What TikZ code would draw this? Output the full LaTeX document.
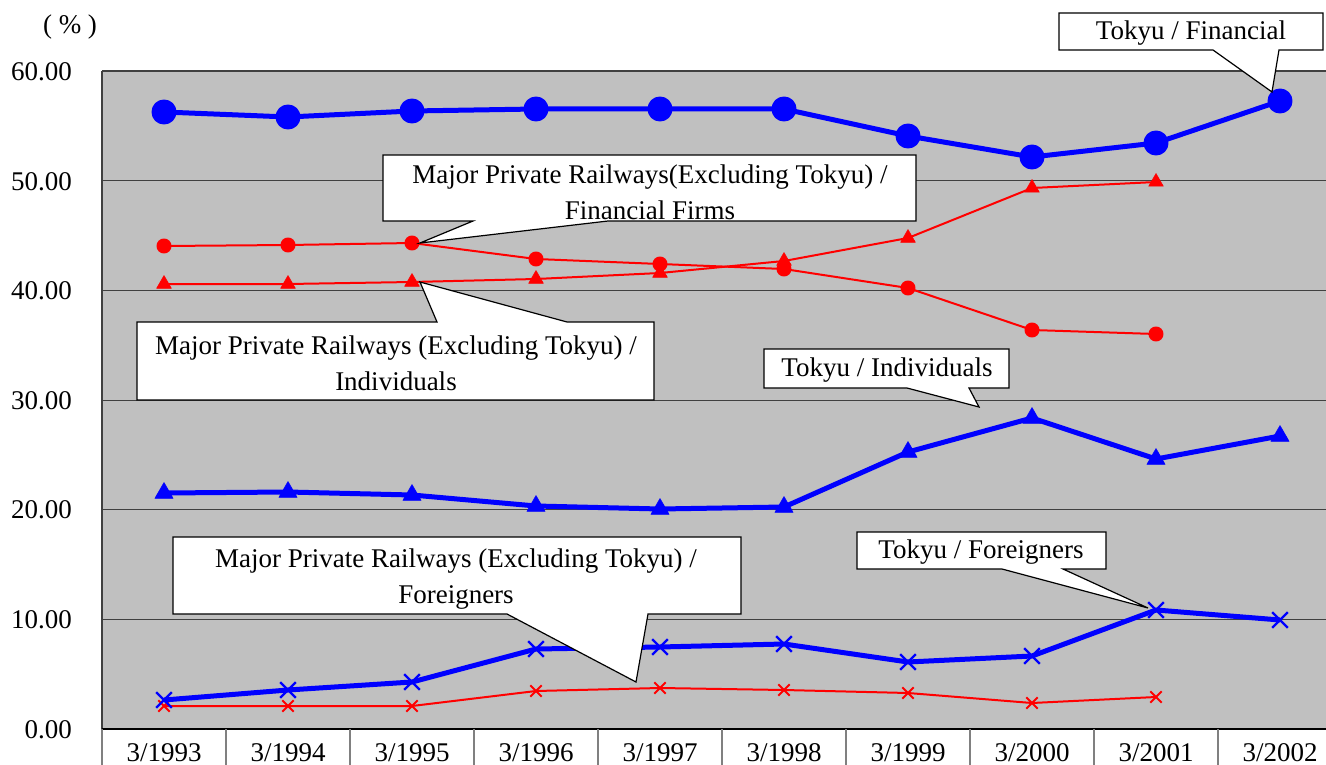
\documentclass[tikz,border=0pt]{standalone}
\usepackage{fontspec}
\setmainfont{Liberation Serif}
\usetikzlibrary{plotmarks}
\definecolor{plotbg}{HTML}{C0C0C0}
\definecolor{gridc}{HTML}{404040}
\definecolor{tabc}{HTML}{808080}
\tikzset{
  lbl/.style={font=\fontsize{27}{36}\selectfont, inner sep=0pt, align=center},
  callout/.style={draw=black, fill=white, line width=1.2pt, line join=miter},
  tokyu/.style={draw=blue, line width=5pt, line join=round},
  mpr/.style={draw=red, line width=2pt, line join=round},
}
\begin{document}
\begin{tikzpicture}[x=1pt,y=-1pt]
\useasboundingbox (0,0) rectangle (1326,765);
\begin{scope}
\clip (0,0) rectangle (1326,765);
% plot area
\fill[plotbg] (102,71) rectangle (1345,729);
\foreach \yy in {181,290,400,509,619} \draw[gridc, line width=1pt] (102,\yy) -- (1345,\yy);
\draw[gridc, line width=1.2pt] (102,71) -- (1345,71);
\draw[gridc, line width=1.5pt] (102,71) -- (102,729);
% table below
\draw[black, line width=1.5pt] (102,729) -- (1345,729);
\foreach \xx in {102,226,350,474,598,722,846,970,1094,1218} \draw[tabc, line width=1.2pt] (\xx,729) -- (\xx,765);
% y tick labels
\foreach \yy/\t in {71/60.00,181/50.00,290/40.00,400/30.00,509/20.00,619/10.00,729/0.00}
  \node[lbl, anchor=east] at (72,\yy+1) {\t};
\node[lbl] (pct) at (70,27) {(\ \%\ )};
% category labels
\foreach \xx/\t [count=\i] in {164/3\slash1993,288/3\slash1994,412/3\slash1995,536/3\slash1996,660/3\slash1997,784/3\slash1998,908/3\slash1999,1032/3\slash2000,1156/3\slash2001,1280/3\slash2002}
  \node[lbl] (cat\i) at (\xx,753) {\t};

% MPR foreigners (red x)
\draw[mpr] plot[mark=x, mark size=8pt, mark options={draw=red, line width=2pt}] coordinates {(164,706) (288,706) (412,706) (536,691) (660,688) (784,690) (908,693) (1032,703) (1156,697)};
% Tokyu foreigners (blue x)
\draw[tokyu] plot[mark=x, mark size=11pt, mark options={draw=blue, line width=2.2pt}] coordinates {(164,700) (288,690) (412,682) (536,649) (660,647) (784,644) (908,662) (1032,656) (1156,610) (1280,620)};
% Tokyu individuals (blue triangles)
\draw[tokyu] plot[mark=triangle*, mark size=10.5pt, mark options={fill=blue, draw=blue, line width=0.5pt}] coordinates {(164,493) (288,492) (412,495) (536,506) (660,509) (784,507) (908,452) (1032,418) (1156,459) (1280,436)};
% MPR individuals (red triangles)
\draw[mpr] plot[mark=triangle*, mark size=8.5pt, mark options={fill=red, draw=red, line width=0.5pt}] coordinates {(164,284) (288,284) (412,282) (536,279) (660,273) (784,261) (908,238) (1032,188) (1156,182)};
% MPR financial (red circles)
\draw[mpr] plot[mark=*, mark size=6.5pt, mark options={fill=red, draw=red}] coordinates {(164,246) (288,245) (412,243) (536,259) (660,264) (784,269) (908,288) (1032,330) (1156,334)};
% Tokyu financial (blue circles)
\draw[tokyu] plot[mark=*, mark size=10pt, mark options={fill=blue, draw=blue}] coordinates {(164,112) (288,117) (412,111) (536,109) (660,109) (784,109) (908,136) (1032,157) (1156,143) (1280,101)};

% callouts
\draw[callout] (1059,13) -- (1323,13) -- (1323,50) -- (1279,50) -- (1272,92) -- (1213,50) -- (1059,50) -- cycle;
\node[lbl] (cTF) at (1191,33) {Tokyu / Financial};

\draw[callout] (383,155) -- (916,155) -- (916,221) -- (608,221) -- (420,243) -- (473,221) -- (383,221) -- cycle;
\node[lbl] (cMF) at (650,192) {Major Private Railways(Excluding Tokyu) /\\Financial Firms};

\draw[callout] (137,322) -- (437,322) -- (420,282) -- (567,322) -- (654,322) -- (654,400) -- (137,400) -- cycle;
\node[lbl] (cMI) at (396,363) {Major Private Railways (Excluding Tokyu) /\\Individuals};

\draw[callout] (764,349) -- (1009,349) -- (1009,388) -- (969,388) -- (979,407) -- (907,388) -- (764,388) -- cycle;
\node[lbl] (cTI) at (887,370) {Tokyu / Individuals};

\draw[callout] (173,537) -- (741,537) -- (741,614) -- (648,614) -- (636,682) -- (507,614) -- (173,614) -- cycle;
\node[lbl] (cMFo) at (456,579) {Major Private Railways (Excluding Tokyu) /\\Foreigners};

\draw[callout] (857,532) -- (1106,532) -- (1106,569) -- (1063,569) -- (1148,608) -- (1002,569) -- (857,569) -- cycle;
\node[lbl] (cTFo) at (981,552) {Tokyu / Foreigners};
\end{scope}
\end{tikzpicture}
\end{document}
